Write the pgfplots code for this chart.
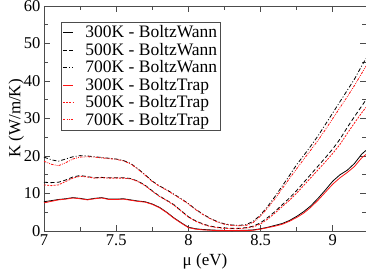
\documentclass[border=0pt]{standalone}
\usepackage{fontspec}
\setmainfont{LiberationSerif}[Extension=.ttf, UprightFont=*-Regular, BoldFont=*-Bold, ItalicFont=*-Italic, BoldItalicFont=*-BoldItalic]
\usepackage{pgfplots}
\pgfplotsset{compat=1.18}
\definecolor{myred}{RGB}{255,20,20}
\begin{document}
\begin{tikzpicture}[font=\rmfamily]
\begin{axis}[
  scale only axis, width=322pt, height=225pt,
  xmin=7, xmax=9.23, ymin=0, ymax=60,
  xtick={7,7.5,8,8.5,9}, xticklabels={7,7.5,8,8.5,9},
  minor xtick={7.25,7.75,8.25,8.75},
  ytick={0,10,20,30,40,50,60}, minor ytick={5,15,25,35,45,55},
  tick align=inside, major tick length=6pt, minor tick length=4pt,
  ticklabel style={font=\rmfamily\fontsize{16.5}{18}\selectfont},
  /pgf/number format/assume math mode=true,
  axis line style={black!70, line width=0.8pt},
  every tick/.style={black!70, line width=0.7pt},
  xlabel={μ (eV)}, ylabel={K (W/m/K)},
  label style={font=\rmfamily\fontsize{17}{19}\selectfont},
  xlabel style={yshift=-1pt},
  ylabel style={yshift=-7pt},
  clip=true,
  legend style={at={(0.052,0.929)}, anchor=north west, draw=black!70, line width=0.7pt,
    font=\rmfamily\fontsize{17.5}{19}\selectfont, row sep=-0.2pt, inner sep=1.5pt,
    /tikz/every odd column/.append style={column sep=10pt}},
  legend cell align=left,
  every axis plot/.append style={legend image code/.code={\draw[#1] (0pt,0pt) -- (10pt,0pt);}},
]
\addplot[black, line width=0.8pt] coordinates {
(7.00,7.8) (7.05,8.1) (7.10,8.4) (7.15,8.6) (7.20,8.9) (7.25,8.7) (7.30,8.4) (7.35,8.7) (7.40,8.9) (7.45,8.5) (7.50,8.5) (7.55,8.6) (7.60,8.3) (7.65,8.0) (7.70,7.8) (7.75,7.2) (7.80,6.3) (7.85,5.0) (7.90,3.5) (7.95,2.2) (8.00,1.0) (8.05,0.6) (8.10,0.4) (8.20,0.2) (8.30,0.1) (8.40,0.2) (8.45,0.3) (8.50,0.6) (8.55,1.0) (8.60,1.5) (8.65,2.0) (8.70,2.8) (8.75,3.9) (8.80,5.2) (8.85,6.8) (8.90,8.8) (8.95,11.0) (9.00,13.3) (9.05,15.0) (9.10,16.2) (9.15,18.0) (9.20,20.5) (9.23,21.5)};
\addlegendentry{300K - BoltzWann}
\addplot[black, line width=0.8pt, dash pattern=on 4pt off 2.5pt] coordinates {
(7.00,13.0) (7.05,12.9) (7.10,13.0) (7.15,13.6) (7.20,14.4) (7.25,14.8) (7.30,14.5) (7.35,14.2) (7.40,14.3) (7.45,14.2) (7.50,14.2) (7.55,14.2) (7.60,14.0) (7.65,13.3) (7.70,12.2) (7.75,10.7) (7.80,9.3) (7.85,8.2) (7.90,7.0) (7.95,5.4) (8.00,3.8) (8.05,2.7) (8.10,1.9) (8.15,1.3) (8.20,1.0) (8.25,0.8) (8.30,0.7) (8.35,0.7) (8.40,0.9) (8.45,1.3) (8.50,2.2) (8.55,3.6) (8.60,5.2) (8.65,7.0) (8.70,8.8) (8.75,10.8) (8.80,13.0) (8.85,15.2) (8.90,17.4) (8.95,19.6) (9.00,21.9) (9.05,24.5) (9.10,27.6) (9.15,30.5) (9.20,33.3) (9.23,35.0)};
\addlegendentry{500K - BoltzWann}
\addplot[black, line width=0.8pt, dash pattern=on 4pt off 2pt on 1pt off 2pt] coordinates {
(7.00,19.7) (7.05,19.0) (7.10,18.6) (7.15,19.2) (7.20,19.8) (7.25,20.1) (7.30,20.0) (7.35,19.8) (7.40,19.6) (7.45,19.4) (7.50,19.2) (7.55,18.8) (7.60,18.0) (7.65,16.6) (7.70,15.0) (7.75,13.3) (7.80,12.0) (7.85,11.0) (7.90,9.8) (7.95,8.6) (8.00,7.3) (8.05,5.8) (8.10,4.5) (8.15,3.4) (8.20,2.5) (8.25,1.9) (8.30,1.6) (8.35,1.5) (8.40,1.7) (8.45,2.6) (8.50,4.3) (8.55,6.6) (8.60,9.2) (8.65,12.0) (8.70,14.8) (8.75,17.7) (8.80,20.2) (8.85,22.8) (8.90,25.5) (8.95,28.5) (9.00,31.5) (9.05,34.5) (9.10,37.5) (9.15,40.5) (9.20,44.0) (9.23,46.0)};
\addlegendentry{700K - BoltzWann}
\addplot[myred, line width=0.8pt] coordinates {
(7.00,7.5) (7.05,7.9) (7.10,8.3) (7.15,8.5) (7.20,8.8) (7.25,8.6) (7.30,8.3) (7.35,8.6) (7.40,8.8) (7.45,8.4) (7.50,8.4) (7.55,8.5) (7.60,8.2) (7.65,7.9) (7.70,7.7) (7.75,7.1) (7.80,6.2) (7.85,4.9) (7.90,3.4) (7.95,2.1) (8.00,0.9) (8.05,0.5) (8.10,0.3) (8.20,0.1) (8.30,0.1) (8.40,0.1) (8.45,0.2) (8.50,0.5) (8.55,0.9) (8.60,1.3) (8.65,1.8) (8.70,2.6) (8.75,3.6) (8.80,4.8) (8.85,6.4) (8.90,8.3) (8.95,10.4) (9.00,12.5) (9.05,14.2) (9.10,15.6) (9.15,17.2) (9.20,19.5) (9.23,20.4)};
\addlegendentry{300K - BoltzTrap}
\addplot[myred, line width=0.8pt, dash pattern=on 2pt off 1.2pt] coordinates {
(7.00,12.3) (7.05,12.1) (7.10,12.3) (7.15,13.2) (7.20,14.1) (7.25,14.6) (7.30,14.4) (7.35,14.1) (7.40,14.2) (7.45,14.1) (7.50,14.1) (7.55,14.1) (7.60,13.9) (7.65,13.2) (7.70,12.1) (7.75,10.6) (7.80,9.2) (7.85,8.1) (7.90,6.9) (7.95,5.3) (8.00,3.7) (8.05,2.6) (8.10,1.8) (8.15,1.2) (8.20,0.9) (8.25,0.7) (8.30,0.6) (8.35,0.6) (8.40,0.8) (8.45,1.1) (8.50,1.9) (8.55,3.2) (8.60,4.8) (8.65,6.5) (8.70,8.2) (8.75,10.1) (8.80,12.2) (8.85,14.3) (8.90,16.4) (8.95,18.5) (9.00,20.7) (9.05,23.1) (9.10,26.0) (9.15,28.8) (9.20,31.5) (9.23,33.0)};
\addlegendentry{500K - BoltzTrap}
\addplot[myred, line width=0.8pt, dash pattern=on 2.5pt off 1.2pt on 0.8pt off 1.2pt on 0.8pt off 1.2pt] coordinates {
(7.00,18.6) (7.05,17.8) (7.10,17.4) (7.15,18.2) (7.20,19.2) (7.25,19.7) (7.30,19.8) (7.35,19.7) (7.40,19.5) (7.45,19.3) (7.50,19.1) (7.55,18.7) (7.60,17.9) (7.65,16.5) (7.70,14.9) (7.75,13.2) (7.80,11.9) (7.85,10.9) (7.90,9.7) (7.95,8.5) (8.00,7.2) (8.05,5.7) (8.10,4.4) (8.15,3.3) (8.20,2.4) (8.25,1.8) (8.30,1.5) (8.35,1.4) (8.40,1.5) (8.45,2.3) (8.50,4.0) (8.55,6.2) (8.60,8.6) (8.65,11.3) (8.70,14.0) (8.75,16.6) (8.80,19.2) (8.85,21.7) (8.90,24.3) (8.95,27.1) (9.00,30.0) (9.05,32.9) (9.10,35.8) (9.15,38.8) (9.20,42.0) (9.23,44.0)};
\addlegendentry{700K - BoltzTrap}
\end{axis}
\pgfresetboundingbox
\path ([xshift=-44pt,yshift=-37pt]current axis.south west) rectangle ([yshift=6pt]current axis.north east);
\end{tikzpicture}
\end{document}
